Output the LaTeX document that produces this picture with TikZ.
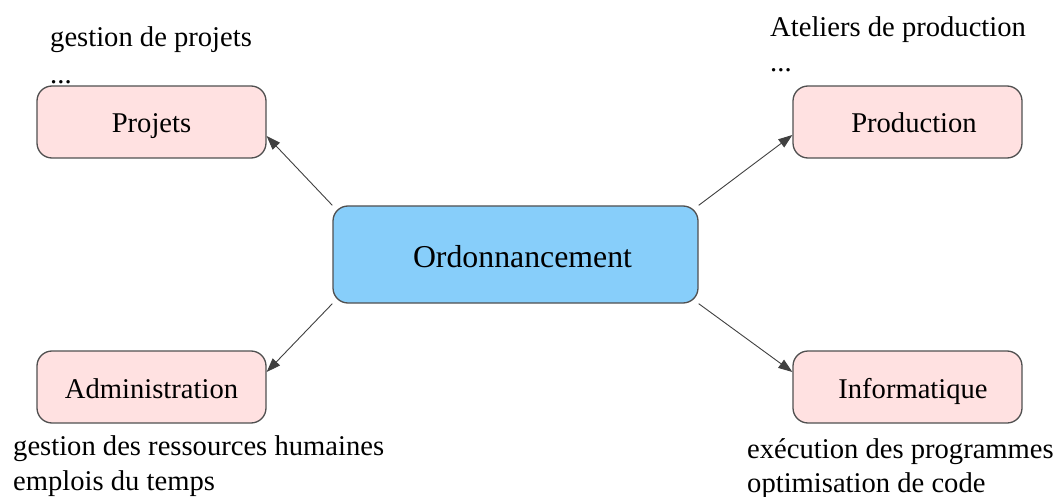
\documentclass[tikz,border=0pt]{standalone}
\usepackage{fontspec}
\setmainfont{Liberation Serif}
\usetikzlibrary{arrows.meta}
\definecolor{boxpink}{HTML}{FFE1E1}
\definecolor{boxblue}{HTML}{87CEFA}
\definecolor{edgegray}{HTML}{505050}
\begin{document}
\begin{tikzpicture}[x=1pt,y=-1pt,
  domainbox/.style={draw=edgegray, line width=1.3pt, rounded corners=15pt,
    fill=boxpink, minimum width=229pt, minimum height=72pt, inner sep=0pt,
    text height=22pt, text depth=0pt,
    font=\fontsize{28.6}{35}\selectfont},
  centerbox/.style={domainbox, fill=boxblue, minimum width=365pt,
    minimum height=97pt, text height=25pt, font=\fontsize{31.8}{38}\selectfont},
  pushright/.style={execute at begin node={\hspace*{#1}}},
  note/.style={anchor=base west, inner sep=0pt, font=\fontsize{28.6}{35}\selectfont},
  link/.style={draw=black!75, line width=0.9pt,
    -{Triangle[length=14pt,width=10pt]}}]
  \useasboundingbox (0,0) rectangle (1057,497);

  % central node
  \node[centerbox, pushright=14pt] (ord) at (515.5,254.5) {Ordonnancement};

  % application domains
  \node[domainbox] (proj) at (151.5,122) {Projets};
  \node[domainbox, pushright=13pt] (prod) at (907.5,122) {Production};
  \node[domainbox] (adm)  at (151.5,387) {Administration};
  \node[domainbox, pushright=11pt] (info) at (907.5,387) {Informatique};

  % examples for each domain
  \node[note] (projA) at (50,47) {gestion de projets};
  \node[note] (projB) at (50,84) {...};
  \node[note] (prodA) at (770,37) {Ateliers de production};
  \node[note] (prodB) at (770,72) {...};
  \node[note] (admA) at (13,455) {gestion des ressources humaines};
  \node[note] (admB) at (13,490) {emplois du temps};
  \node[note] (infoA) at (747,458) {exécution des programmes};
  \node[note] (infoB) at (747,492) {optimisation de code};

  % links from the central node
  \draw[link] (ord.north west) -- ([yshift=-14pt]proj.east);
  \draw[link] (ord.north east) -- ([yshift=-13pt]prod.west);
  \draw[link] (ord.south west) -- ([yshift=15pt]adm.east);
  \draw[link] (ord.south east) -- ([yshift=15pt]info.west);
\end{tikzpicture}
\end{document}
